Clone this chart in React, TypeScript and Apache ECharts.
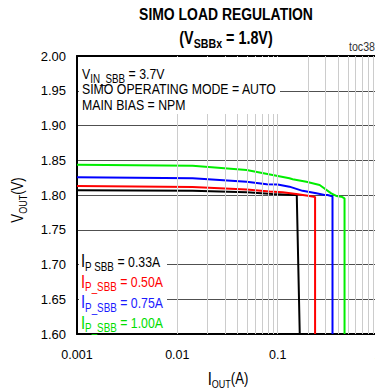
import React, { useEffect, useRef } from "react";
import * as echarts from "echarts";

const FONT = "'Liberation Sans', Arial, sans-serif";
const NARROW = 0.82;

// X tick labels (log axis, A)
const xTickLabels: Record<string, string> = { "0.001": "0.001", "0.01": "0.01", "0.1": "0.1", "1": "1" };
// vertical light grid positions (A)
const xGridValues = [
  0.002, 0.003, 0.004, 0.005, 0.006, 0.007, 0.008, 0.009, 0.01,
  0.02, 0.03, 0.04, 0.05, 0.06, 0.07, 0.08, 0.09, 0.1,
  0.2, 0.3, 0.4, 0.5, 0.6, 0.7, 0.8, 0.9, 1,
];

// I_P_SBB = 0.33A (black)
const iout033 = [0.001, 0.0142, 0.049, 0.089, 0.141, 0.155, 0.166];
const vout033 = [1.807, 1.806, 1.804, 1.8014, 1.8, 1.8, 1.6];
// I_P_SBB = 0.50A (red)
const iout050 = [0.001, 0.0142, 0.049, 0.083, 0.112, 0.153, 0.2, 0.236, 0.236];
const vout050 = [1.813, 1.8115, 1.808, 1.805, 1.804, 1.8015, 1.799, 1.797, 1.6];
// I_P_SBB = 0.75A (blue)
const iout075 = [0.001, 0.0142, 0.049, 0.078, 0.1, 0.131, 0.177, 0.243, 0.293, 0.314, 0.342, 0.352, 0.352];
const vout075 = [1.8255, 1.824, 1.819, 1.8154, 1.815, 1.812, 1.806, 1.8024, 1.8, 1.8, 1.7986, 1.798, 1.6];
// I_P_SBB = 1.00A (green)
const iout100 = [0.001, 0.0142, 0.049, 0.089, 0.131, 0.141, 0.193, 0.262, 0.342, 0.384, 0.432, 0.464, 0.464];
const vout100 = [1.8436, 1.8422, 1.836, 1.8288, 1.824, 1.8226, 1.8191, 1.8144, 1.8024, 1.7986, 1.7976, 1.7953, 1.6];

const seriesDefs = [
  { name: "0.33A", x: iout033, y: vout033, color: "#000000" },
  { name: "0.50A", x: iout050, y: vout050, color: "#ff0000" },
  { name: "0.75A", x: iout075, y: vout075, color: "#0000ff" },
  { name: "1.00A", x: iout100, y: vout100, color: "#00ee00" },
];

const legendLabels = [
  { sub: "P SBB", val: " = 0.33A", color: "#000000" },
  { sub: "P_SBB", val: " = 0.50A", color: "#ff0000" },
  { sub: "P_SBB", val: " = 0.75A", color: "#1a1aff" },
  { sub: "P_SBB", val: " = 1.00A", color: "#00dd00" },
];

function rich(main: number, sub: number, color: string, bold = false, big = main + 2) {
  const fw = bold ? "bold" : "normal";
  const lh = main + 4;
  return {
    m: { fontSize: main, fontFamily: FONT, fill: color, color, fontWeight: fw, lineHeight: lh, verticalAlign: "bottom" },
    b: { fontSize: big, fontFamily: FONT, fill: color, color, fontWeight: fw, lineHeight: lh, verticalAlign: "bottom" },
    s: { fontSize: sub, fontFamily: FONT, fill: color, color, fontWeight: fw, lineHeight: lh, verticalAlign: "bottom", padding: [0, 0, -3, 0] },
  };
}

export default function App() {
  const ref = useRef<HTMLDivElement>(null);
  useEffect(() => {
    if (!ref.current) return;
    const chart = echarts.init(ref.current, undefined, { renderer: "svg" });

    const legendEls: any[] = legendLabels.map((l, i) => ({
      type: "text",
      x: 81,
      y: 260 + i * 20.5,
      z: 110,
      scaleX: NARROW,
      style: {
        text: `{b|I}{s|${l.sub}}{m|${l.val}}`,
        verticalAlign: "middle",
        rich: rich(15, 12, l.color, false, 18),
      },
    }));

    const option: any = {
      animation: false,
      backgroundColor: "#ffffff",
      grid: { left: 77, top: 56, width: 301, height: 278, containLabel: false, outerBoundsMode: "none" },
      xAxis: [
        {
          type: "log",
          logBase: 10,
          min: 0.001,
          max: 1,
          axisLine: { show: true, onZero: false, lineStyle: { color: "#000", width: 2 } },
          axisTick: { show: false },
          splitLine: { show: false },
          axisLabel: {
            fontFamily: FONT,
            fontSize: 12.5,
            color: "#000",
            margin: 14,
            formatter: (v: number) => xTickLabels[String(+v.toPrecision(3))] ?? "",
          },
        },
        {
          type: "log",
          logBase: 10,
          min: 0.001,
          max: 1,
          position: "top",
          axisLine: { show: true, onZero: false, lineStyle: { color: "#000", width: 2 } },
          axisTick: { show: false },
          axisLabel: { show: false },
          splitLine: { show: false },
        },
      ],
      yAxis: {
        type: "value",
        min: 1.6,
        max: 2.0,
        interval: 0.05,
        axisLine: { show: true, onZero: false, lineStyle: { color: "#000", width: 2 } },
        axisTick: { show: false },
        splitLine: { show: true, lineStyle: { color: "#505050", width: 1 } },
        axisLabel: {
          fontFamily: FONT,
          fontSize: 13,
          color: "#000",
          margin: 11,
          formatter: (v: number) => v.toFixed(2),
        },
      },
      series: [
        {
          type: "line",
          data: [],
          z: 1,
          silent: true,
          markLine: {
            silent: true,
            symbol: "none",
            label: { show: false },
            lineStyle: { color: "#cccccc", width: 1, type: "solid" },
            data: xGridValues.map((v) => ({ xAxis: v })),
          },
        },
        ...seriesDefs.map((s) => ({
          type: "line",
          name: s.name,
          z: 3,
          showSymbol: false,
          symbol: "none",
          data: s.x.map((xv, i) => [xv, s.y[i]]),
          lineStyle: { color: s.color, width: 2 },
          itemStyle: { color: s.color },
        })),
      ],
      graphic: {
        elements: [
          {
            type: "text",
            x: 226,
            y: 14,
            scaleX: NARROW,
            style: {
              text: "SIMO LOAD REGULATION",
              fontFamily: FONT,
              fontSize: 17,
              fontWeight: "bold",
              fill: "#000",
              align: "center",
              verticalAlign: "middle",
            },
          },
          {
            type: "text",
            x: 226,
            y: 36,
            scaleX: NARROW,
            style: {
              text: "{m|(V}{s|SBBx}{m| = 1.8V)}",
              align: "center",
              verticalAlign: "middle",
              rich: rich(17.5, 13, "#000", true),
            },
          },
          {
            type: "text",
            x: 375,
            y: 47,
            scaleX: NARROW,
            style: {
              text: "toc38",
              fontFamily: FONT,
              fontSize: 13,
              fill: "#333",
              align: "right",
              verticalAlign: "middle",
            },
          },
          {
            type: "rect",
            z: 100,
            shape: { x: 79, y: 57, width: 201, height: 57 },
            style: { fill: "#ffffff" },
          },
          {
            type: "text",
            x: 82,
            y: 72,
            z: 110,
            scaleX: NARROW,
            style: {
              text: "{m|V}{s|IN_SBB}{m| = 3.7V}",
              verticalAlign: "middle",
              rich: rich(15, 12, "#000"),
            },
          },
          {
            type: "text",
            x: 82,
            y: 89,
            z: 110,
            scaleX: NARROW,
            style: {
              text: "SIMO OPERATING MODE = AUTO",
              fontFamily: FONT,
              fontSize: 15,
              fill: "#000",
              verticalAlign: "middle",
            },
          },
          {
            type: "text",
            x: 82,
            y: 105,
            z: 110,
            scaleX: NARROW,
            style: {
              text: "MAIN BIAS = NPM",
              fontFamily: FONT,
              fontSize: 15,
              fill: "#000",
              verticalAlign: "middle",
            },
          },
          {
            type: "rect",
            z: 100,
            shape: { x: 79, y: 245, width: 88, height: 88 },
            style: { fill: "#ffffff" },
          },
          ...legendEls,
          {
            type: "text",
            x: 228,
            y: 377,
            scaleX: NARROW,
            style: {
              text: "{b|I}{s|OUT}{m|(A)}",
              align: "center",
              verticalAlign: "middle",
              rich: rich(16, 11, "#000"),
            },
          },
          {
            type: "text",
            x: 16,
            y: 200,
            rotation: Math.PI / 2,
            scaleX: NARROW,
            style: {
              text: "{m|V}{s|OUT}{m|(V)}",
              align: "center",
              verticalAlign: "middle",
              rich: rich(16, 11, "#000"),
            },
          },
        ],
      },
    };
    chart.setOption(option);
    return () => chart.dispose();
  }, []);
  return (
    <div
      ref={ref}
      style={{ position: "absolute", left: 0, top: 0, width: 375, height: 390, overflow: "hidden" }}
    />
  );
}
